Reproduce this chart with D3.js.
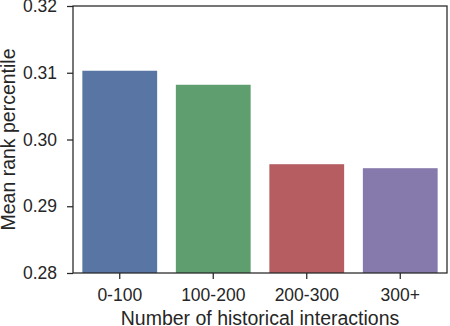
<!DOCTYPE html>
<html>
<head>
<meta charset="utf-8">
<script src="https://cdn.jsdelivr.net/npm/d3@7"></script>
<style>
  body { margin: 0; background: #fff; }
  svg text { font-family: "Liberation Sans", Arial, sans-serif; fill: #262626; }
</style>
</head>
<body>
<script>
const width = 450;
const height = 326;

// chart data
const categories = ['0-100', '100-200', '200-300', '300+'];
const mean_rank = [0.3103, 0.3082, 0.2963, 0.2957];
const bar_colors = ['#5875a4', '#5f9e6e', '#b55d60', '#857aab'];
const y_ticks = [0.28, 0.29, 0.30, 0.31, 0.32];

const m = { top: 6, right: 3, bottom: 53, left: 73 };

const svg = d3.select('body').append('svg')
    .attr('width', width)
    .attr('height', height);

const x = d3.scaleBand()
    .domain(categories)
    .range([m.left, width - m.right])
    .paddingInner(0.2)
    .paddingOuter(0.1);

const y = d3.scaleLinear()
    .domain([0.28, 0.32])
    .range([height - m.bottom, m.top]);

// bars
svg.selectAll('.bar')
    .data(categories)
    .enter()
    .append('rect')
        .attr('class', 'bar')
        .attr('x', (d) => x(d))
        .attr('width', x.bandwidth())
        .attr('y', (d, i) => y(mean_rank[i]))
        .attr('height', (d, i) => y(0.28) - y(mean_rank[i]))
        .style('fill', (d, i) => bar_colors[i]);

// frame
svg.append('rect')
    .attr('x', m.left)
    .attr('y', m.top)
    .attr('width', width - m.right - m.left)
    .attr('height', height - m.bottom - m.top)
    .attr('fill', 'none')
    .attr('stroke', '#262626')
    .attr('stroke-width', 1.25);

const x_axis = svg.append('g')
    .attr('transform', `translate(0,${height - m.bottom})`)
    .call(d3.axisBottom(x).tickSize(6).tickPadding(10).tickSizeOuter(0));

const y_axis = svg.append('g')
    .attr('transform', `translate(${m.left},0)`)
    .call(d3.axisLeft(y).tickValues(y_ticks).tickFormat(d3.format('.2f')).tickSize(6).tickPadding(10).tickSizeOuter(0));

[x_axis, y_axis].forEach((g) => {
    g.select('.domain').remove();
    g.selectAll('.tick line').attr('stroke', '#262626').attr('stroke-width', 1.25);
    g.selectAll('.tick text')
        .style('font-size', '17.5px')
        .style('font-family', '"Liberation Sans", Arial, sans-serif')
        .attr('fill', '#262626');
});

svg.append('text')
    .attr('x', (m.left + width - m.right) / 2)
    .attr('y', 325)
    .attr('text-anchor', 'middle')
    .style('font-size', '19.5px')
    .text('Number of historical interactions');

svg.append('text')
    .attr('transform', `translate(15,${(m.top + height - m.bottom) / 2}) rotate(-90)`)
    .attr('text-anchor', 'middle')
    .style('font-size', '19.5px')
    .text('Mean rank percentile');
</script>
</body>
</html>
